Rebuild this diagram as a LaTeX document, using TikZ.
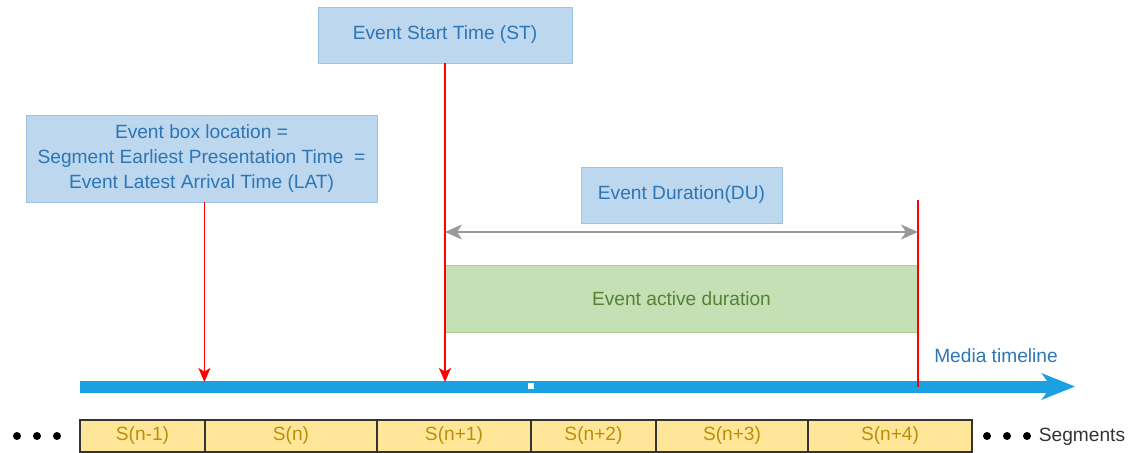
\documentclass[tikz,border=0pt]{standalone}
\usepackage{fontspec}
\setmainfont{Liberation Sans}
\usetikzlibrary{arrows.meta}

\definecolor{infofill}{HTML}{BDD7EE}
\definecolor{infoedge}{HTML}{9DC3E6}
\definecolor{infotext}{HTML}{2E75B6}
\definecolor{actfill}{HTML}{C5E0B4}
\definecolor{actedge}{HTML}{A9D18E}
\definecolor{acttext}{HTML}{548235}
\definecolor{segfill}{HTML}{FFE699}
\definecolor{segtext}{HTML}{B8900A}
\definecolor{segedge}{HTML}{333333}
\definecolor{tlblue}{HTML}{1BA1E2}
\definecolor{spangray}{HTML}{999999}

\tikzset{
  infobox/.style={draw=infoedge, fill=infofill, text=infotext, align=center,
    inner sep=0pt, font=\fontsize{10.9}{14}\selectfont},
  actbox/.style={draw=actedge, fill=actfill, text=acttext, inner sep=0pt,
    font=\fontsize{10.9}{13}\selectfont},
  segbox/.style={draw=segedge, line width=0.6pt, fill=segfill, text=segtext,
    minimum height=0.64cm, inner sep=0pt, font=\fontsize{10.9}{13}\selectfont},
  marker/.style={red, line width=0.9pt},
  markarrow/.style={marker, -{Stealth[length=2.8mm,width=2.4mm,inset=0.7mm]}},
  span/.style={spangray, line width=1pt,
    {Stealth[length=3.4mm,width=3mm,inset=1mm]}-{Stealth[length=3.4mm,width=3mm,inset=1mm]}},
  timeline/.style={tlblue, line width=0.24cm,
    -{Stealth[length=6.6mm,width=5.2mm,inset=1.8mm]}},
}

\begin{document}
\begin{tikzpicture}[x=0.02cm, y=-0.02cm]
  \useasboundingbox (0,0) rectangle (1133,453);

  % Segments
  \foreach \a/\b/\lbl [count=\i] in {80/205/S(n-1), 205/377/S(n), 377/531/S(n+1),
      531/656/S(n+2), 656/808/S(n+3), 808/972/S(n+4)} {
    \node[segbox, minimum width={(\b-\a)*0.02cm}] (seg\i) at ({(\a+\b)/2},436) {\lbl};
  }
  \foreach \x in {17,37,57,987,1007,1027}
    \fill (\x,436) circle[radius=0.08cm];
  \node[text=segedge, font=\fontsize{10.9}{13}\selectfont] (seglabel) at (1082,437) {Segments};

  % Info boxes
  \node[infobox, minimum width=7.02cm, minimum height=1.74cm] (lat) at (201.5,158.5)
    {Event box location =\\Segment Earliest Presentation Time\ \ =\\Event Latest Arrival Time (LAT)};
  \node[infobox, minimum width=5.08cm, minimum height=1.12cm] (st) at (445,35) {Event Start Time (ST)};
  \node[infobox, minimum width=4.02cm, minimum height=1.12cm] (du) at (681.5,195) {Event Duration(DU)};

  % Active duration
  \node[actbox, minimum width=9.46cm, minimum height=1.34cm] (act) at (681.5,298.5) {Event active duration};

  % Media timeline
  \coordinate (tl0) at (80,386.5);
  \coordinate (tl1) at (1075,386.5);
  \coordinate (tltop) at (0,382);
  \draw[timeline] (tl0) -- (tl1);
  \fill[white] (528,383) rectangle (534,389);
  \node[text=infotext, font=\fontsize{10.9}{13}\selectfont] (tlname) at (996,356) {Media timeline};

  % Markers
  \coordinate (latx) at (204.4,0);
  \coordinate (duend) at (918,200);
  \draw[markarrow] (lat.south -| latx) -- (latx |- tltop);
  \draw[markarrow] (st.south) -- (st.south |- tltop);
  \draw[marker] (duend) -- (duend |- tl0);
  \draw[span] (st.south |- 0,232) -- (duend |- 0,232);
\end{tikzpicture}
\end{document}
